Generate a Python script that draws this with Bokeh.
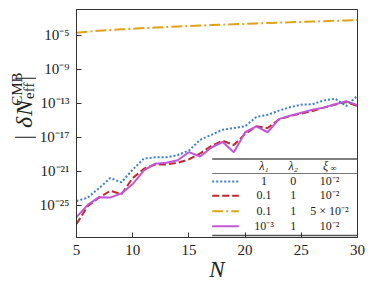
import math
from bokeh.plotting import figure
from bokeh.layouts import row
from bokeh.models import Range1d, FixedTicker, CustomJSTickFormatter, Label
from bokeh.core.properties import value
from bokeh.embed import file_html
from bokeh.resources import INLINE

# ---------------- data (log10 of |dN_eff^CMB|) ----------------
N = list(range(5, 31))
log_blue = [-24.5, -24.1, -23.0, -21.8, -22.3, -20.8, -19.5, -19.35, -19.35, -19.1,
            -18.55, -17.3, -16.7, -16.1, -15.9, -15.7, -14.6, -14.35, -13.85, -13.45,
            -13.15, -13.1, -12.65, -12.45, -13.3, -12.1]
log_red = [-27.2, -25.1, -24.1, -23.3, -23.7, -21.8, -20.7, -20.2, -20.2, -20.0,
           -19.6, -18.9, -18.0, -17.4, -17.9, -16.6, -15.7, -15.9, -14.9, -14.5,
           -14.2, -13.9, -13.5, -13.15, -12.85, -13.3]
log_orange = [-4.68, -4.55, -4.45, -4.36, -4.28, -4.20, -4.13, -4.06, -4.00, -3.94,
              -3.88, -3.83, -3.78, -3.73, -3.68, -3.63, -3.58, -3.54, -3.49, -3.45,
              -3.40, -3.36, -3.32, -3.27, -3.23, -3.18]
log_magenta = [-26.4, -24.95, -24.05, -24.1, -23.6, -22.5, -20.9, -20.1, -20.0, -19.7,
               -18.75, -19.26, -18.2, -17.55, -18.75, -16.4, -15.7, -16.4, -14.85, -14.45,
               -14.1, -13.75, -13.5, -13.1, -12.75, -13.2]

x_ticks = [5, 10, 15, 20, 25, 30]
y_tick_exps = [-25, -21, -17, -13, -9, -5]

series_labels = [
    ("1", "0", "10⁻²"),
    ("0.1", "1", "10⁻²"),
    ("0.1", "1", "5 × 10⁻²"),
    ("10⁻³", "1", "10⁻²"),
]

# ---------------- styles ----------------
BLUE, RED, ORANGE, MAGENTA = "#3d7fc4", "#c0282d", "#e0a21a", "#c257d6"
FONT = "Liberation Serif"
TC = "#222222"

PAGE_H = 289
YL_W = 36                      # width of the y-title strip
W = 374 - YL_W
FRAME_L, FRAME_R, FRAME_T, FRAME_B = 76, 357, 9, 237   # page pixels
X0, X1 = 5, 30
Y0, Y1 = -28.8, -1.94

p = figure(width=W, height=PAGE_H, x_range=Range1d(X0, X1),
           y_range=Range1d(10 ** Y0, 10 ** Y1), y_axis_type="log",
           output_backend="svg", toolbar_location=None,
           min_border_left=FRAME_L - YL_W, min_border_right=374 - FRAME_R,
           min_border_top=FRAME_T, min_border_bottom=PAGE_H - FRAME_B)
p.background_fill_color = "white"
p.border_fill_color = "white"
p.outline_line_color = "#333333"
p.outline_line_width = 1
p.xgrid.visible = False
p.ygrid.visible = False

p.xaxis.ticker = FixedTicker(ticks=x_ticks)
p.yaxis.ticker = FixedTicker(ticks=[10.0 ** e for e in y_tick_exps])
p.yaxis.formatter = CustomJSTickFormatter(code="""
const sup = {'-':'\u207b','0':'\u2070','1':'\u00b9','2':'\u00b2','3':'\u00b3','4':'\u2074',
             '5':'\u2075','6':'\u2076','7':'\u2077','8':'\u2078','9':'\u2079'};
const e = Math.round(Math.log10(tick));
return '10' + String(e).split('').map(c => sup[c]).join('');
""")
for ax in (p.xaxis, p.yaxis):
    ax.major_tick_in = 5
    ax.major_tick_out = 0
    ax.minor_tick_line_color = None
    ax.axis_line_color = "#333333"
    ax.major_tick_line_color = "#333333"
    ax.major_label_text_font = FONT
    ax.major_label_text_font_size = "15px"
    ax.major_label_text_color = TC
p.xaxis.major_label_standoff = 7
p.yaxis.major_label_standoff = 7
p.xaxis.axis_label = "N"
p.xaxis.axis_label_text_font = FONT
p.xaxis.axis_label_text_font_size = "23px"
p.xaxis.axis_label_text_font_style = "italic"
p.xaxis.axis_label_text_color = TC
p.xaxis.axis_label_standoff = -1

def y_of(v):
    return [10.0 ** e for e in v]

p.line(N, y_of(log_orange), line_color=ORANGE, line_width=2, line_dash="11 3 2 3")
p.line(N, y_of(log_red), line_color=RED, line_width=2, line_dash="7 3")
p.line(N, y_of(log_magenta), line_color=MAGENTA, line_width=2)
p.line(N, y_of(log_blue), line_color=BLUE, line_width=2, line_dash="2 2")

# ---------------- helpers: page pixel -> data coordinates ----------------
FW = FRAME_R - FRAME_L
FH = FRAME_B - FRAME_T

def dx(px):
    return X0 + (px - FRAME_L) / FW * (X1 - X0)

def dy(py):
    return 10.0 ** (Y1 - (py - FRAME_T) / FH * (Y1 - Y0))

def lab(px, py, text, size, style="normal"):
    p.add_layout(Label(x=dx(px), y=dy(py), text=text, text_font=FONT,
                       text_font_size=f"{size}px", text_font_style=style,
                       text_align="center", text_baseline="middle", text_color=TC))

# ---------------- table legend ----------------
RULE_L, RULE_R = 211.7, FRAME_R
for ry, lw in ((158.5, 1.3), (173.0, 0.8), (235.0, 1.3)):
    p.line([dx(RULE_L), dx(RULE_R)], [dy(ry), dy(ry)], line_color="#555555", line_width=lw)

COL1, COL2, COL3 = 263.5, 292.8, 329.0
lab(COL1, 165, "λ₁", 12, style="italic")
lab(COL2, 165, "λ₂", 12, style="italic")
lab(COL3 - 4, 165, "ξ", 12, style="italic")
lab(COL3 + 4, 167.5, "∞", 8.5)

row_y = [180.5, 194.8, 210.2, 225.3]
line_specs = [(BLUE, "2 2"), (RED, "7 3"), (ORANGE, "11 3 2 3"), (MAGENTA, "solid")]
for (c1, c2, c3), ry, (col, dash) in zip(series_labels, row_y, line_specs):
    p.line([dx(211.7), dx(238.3)], [dy(ry + 0.5), dy(ry + 0.5)], line_color=col,
           line_width=2, line_dash=dash)
    lab(COL1, ry, c1, 12)
    lab(COL2, ry, c2, 12)
    lab(COL3, ry, c3, 12)

# ---------------- y title strip ----------------
yl = figure(width=YL_W, height=PAGE_H, x_range=Range1d(0, YL_W), y_range=Range1d(0, PAGE_H),
            output_backend="svg", toolbar_location=None, min_border=0)
yl.axis.visible = False
yl.xgrid.visible = False
yl.ygrid.visible = False
yl.outline_line_color = None
yl.background_fill_color = "white"
yl.border_fill_color = "white"

def ytext(px, py, texts, size, style="normal"):
    yl.text(x=px, y=[PAGE_H - v for v in py], text=texts, angle=math.pi / 2,
            text_align="center", text_baseline="middle", text_font=value(FONT),
            text_font_size=f"{size}px", text_font_style=style, text_color=TC)

ytext([23, 23], [162, 87], ["|", "|"], 23)
ytext([23, 23], [143, 125], ["δ", "N"], 24, style="italic")
ytext([16], [101], ["CMB"], 15)
ytext([28], [103], ["eff"], 15)

layout = row(yl, p)
open("out.html", "w").write(file_html(layout, INLINE))
